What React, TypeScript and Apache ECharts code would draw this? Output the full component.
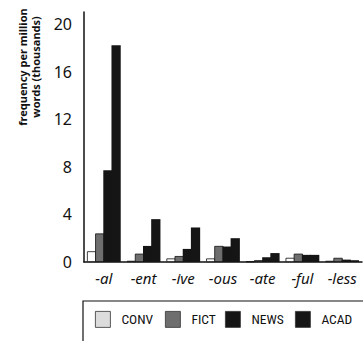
import React, { useEffect, useRef } from "react";
import * as echarts from "echarts";

const categories = ["-al", "-ent", "-ive", "-ous", "-ate", "-ful", "-less"];
const conv = [0.9, 0.1, 0.3, 0.3, 0.05, 0.35, 0.1];
const fict = [2.4, 0.7, 0.5, 1.35, 0.15, 0.7, 0.35];
const news = [7.7, 1.35, 1.1, 1.3, 0.4, 0.6, 0.2];
const acad = [18.2, 3.6, 2.9, 2.0, 0.75, 0.6, 0.15];
const seriesNames = ["CONV", "FICT", "NEWS", "ACAD"];
const yTicks = [0, 4, 8, 12, 16, 20];

export default function App() {
  const ref = useRef<HTMLDivElement>(null);
  useEffect(() => {
    if (!ref.current) return;
    const chart = echarts.init(ref.current, null, { renderer: "svg" });
    const fills = ["#ffffff", "#6e6e6e", "#151515", "#151515"];
    const legendFills = ["#dcdcdc", "#6e6e6e", "#151515", "#151515"];
    const legendLeft = [95, 165, 225, 295];
    const data = [conv, fict, news, acad];
    chart.setOption({
      animation: false,
      backgroundColor: "#ffffff",
      grid: { left: 84, right: 1, top: 12, bottom: 79 },
      xAxis: {
        type: "category",
        data: categories,
        axisLine: { lineStyle: { color: "#111", width: 1.5 } },
        axisTick: { show: false },
        axisLabel: {
          fontFamily: "Noto Sans",
          fontStyle: "italic",
          fontSize: 15,
          color: "#111",
          margin: 8,
          interval: 0,
        },
      },
      yAxis: {
        type: "value",
        min: 0,
        max: 21,
        interval: 4,
        splitLine: { show: false },
        axisLine: { show: true, lineStyle: { color: "#111", width: 1.5 } },
        axisTick: { show: false },
        axisLabel: {
          fontFamily: "Noto Sans",
          fontSize: 16,
          color: "#111",
          margin: 12,
          formatter: (v: number) => (yTicks.includes(v) ? String(v) : ""),
        },
      },
      legend: seriesNames.map((name, i) => ({
        left: legendLeft[i],
        top: 311,
        padding: 0,
        itemWidth: 15,
        itemHeight: 16,
        itemGap: 6,
        icon: "rect",
        data: [{ name, itemStyle: { color: legendFills[i], borderColor: "#333", borderWidth: 0.8 } }],
        textStyle: {
          fontFamily: "Roboto Condensed, Roboto",
          fontSize: 13.5,
          color: "#111",
          padding: [0, 0, 0, 6],
        },
      })),
      graphic: [
        {
          type: "text",
          x: 29,
          y: 67,
          rotation: Math.PI / 2,
          style: {
            text: "frequency per million\nwords (thousands)",
            textAlign: "center",
            textVerticalAlign: "middle",
            fontFamily: "Noto Sans",
            fontWeight: "bold",
            fontSize: 11,
            lineHeight: 13,
            fill: "#111",
          },
        },
        {
          type: "rect",
          shape: { x: 83, y: 301, width: 300, height: 60 },
          style: { stroke: "#111", lineWidth: 1.2, fill: "none" },
        },
      ],
      series: seriesNames.map((name, i) => ({
        name,
        type: "bar",
        data: data[i],
        barGap: "-12%",
        barCategoryGap: "15%",
        itemStyle: { color: fills[i], borderColor: "#111", borderWidth: i === 0 || i === 1 ? 0.8 : 0 },
      })),
    });
    return () => chart.dispose();
  }, []);
  return (
    <div
      ref={ref}
      style={{ position: "fixed", left: 0, top: 0, width: 363, height: 341 }}
    />
  );
}
